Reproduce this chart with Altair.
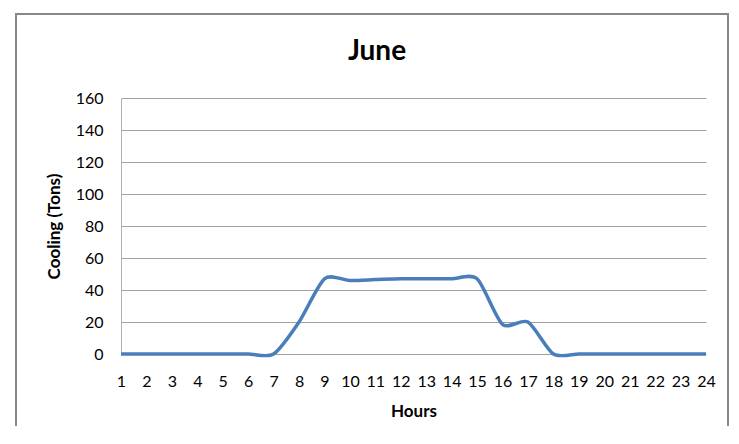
import altair as alt
import pandas as pd

hours = list(range(1, 25))
cooling = [0, 0, 0, 0, 0, 0, 0, 20, 47, 46, 46.5, 47, 47, 47, 47, 18.5, 20, 0, 0, 0, 0, 0, 0, 0]
y_ticks = [0, 20, 40, 60, 80, 100, 120, 140, 160]
title_text = "June"

df = pd.DataFrame({"Hours": hours, "Cooling": cooling})

W, H = 585, 256
FONT = "Lato"

one = pd.DataFrame({"a": [0]})

frame = alt.Chart(one).mark_rect(
    fillOpacity=0, stroke="#888888", strokeWidth=2, clip=False
).encode(
    x=alt.value(-105), x2=alt.value(607), y=alt.value(-84), y2=alt.value(420)
)

title = alt.Chart(one).mark_text(
    font=FONT, fontSize=28, fontWeight="bold", color="#000000",
    align="center", baseline="middle", clip=False,
).encode(x=alt.value(256), y=alt.value(-46), text=alt.value(title_text))

line = alt.Chart(df).mark_line(
    color="#4a7ebb", strokeWidth=3.5, interpolate="cardinal", tension=0.25
).encode(
    x=alt.X(
        "Hours:Q",
        scale=alt.Scale(domain=[1, 24], nice=False, zero=False),
        axis=alt.Axis(
            values=hours, title="Hours", grid=False, ticks=False, domain=False,
            labelPadding=19, titlePadding=14, format="d", labelOverlap=False,
            labelFlush=False,
        ),
    ),
    y=alt.Y(
        "Cooling:Q",
        scale=alt.Scale(domain=[0, 160], nice=False),
        axis=alt.Axis(
            values=y_ticks, title="Cooling (Tons)", grid=True, gridColor="#a0a0a0",
            ticks=False, domainColor="#b0b0b0", labelPadding=18, titlePadding=12,
        ),
    ),
)

chart = alt.layer(frame, title, line).properties(
    width=W, height=H,
    padding={"left": 113, "top": 90, "right": 24, "bottom": 72},
    autosize=alt.AutoSizeParams(type="none"),
).configure_view(stroke=None).configure_axis(
    labelFont=FONT, labelFontSize=16, labelColor="#000000",
    titleFont=FONT, titleFontSize=17, titleFontWeight="bold", titleColor="#000000",
    gridColor="#a0a0a0",
)

chart.save("out.html", embed_options={"renderer": "svg", "actions": False})
